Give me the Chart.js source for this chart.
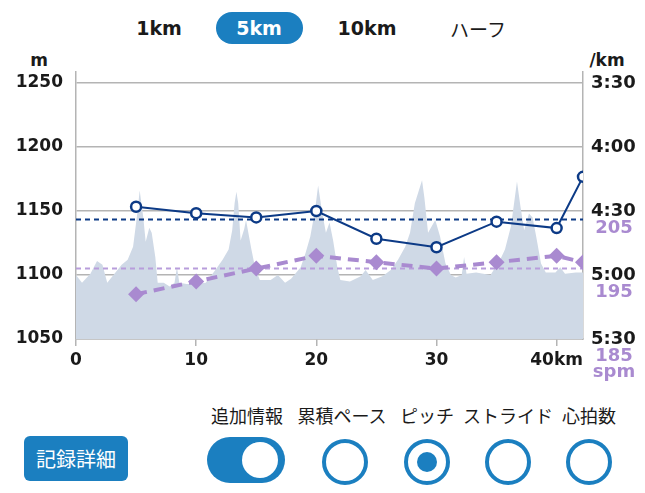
<!DOCTYPE html>
<html>
<head>
<meta charset="utf-8">
<script src="https://cdn.jsdelivr.net/npm/chart.js@4/dist/chart.umd.min.js"></script>
<style>
  body { margin: 0; width: 645px; height: 493px; background: #fff; position: relative; overflow: hidden;
         font-family: "Noto Sans CJK JP", "Noto Sans", sans-serif; color: #1a1a1a; }
  .c { position: absolute; transform: translate(-50%, -50%); white-space: nowrap; }
  .tab { font-family: "DejaVu Sans", sans-serif; font-weight: bold; font-size: 19px; }
  .pill { position: absolute; left: 216px; top: 12px; width: 87px; height: 32px; border-radius: 16px; background: #1b7fc0; }
  .unit { font-family: "DejaVu Sans", sans-serif; font-weight: bold; font-size: 17px; }
  .opt { font-size: 18px; }
  #wrap { position: absolute; left: 0; top: 45px; width: 645px; height: 345px; }
  .btn { position: absolute; left: 24px; top: 436px; width: 104px; height: 45px; border-radius: 6px; background: #1b7fc0;
         color: #fff; font-size: 20px; line-height: 45px; text-align: center; }
  .toggle { position: absolute; left: 207px; top: 437px; width: 78px; height: 46px; border-radius: 23px; background: #1b7fc0; }
  .knob { position: absolute; left: 35px; top: 5px; width: 36px; height: 36px; border-radius: 50%; background: #fff; }
  .ring { position: absolute; width: 38px; height: 38px; border: 4px solid #1b7fc0; border-radius: 50%; background: #fff;
          transform: translate(-50%, -50%); }
  .dot { position: absolute; left: 9px; top: 9px; width: 20px; height: 20px; border-radius: 50%; background: #1b7fc0; }
</style>
</head>
<body>
<div class="pill"></div>
<div class="c tab" style="left:159px;top:28px">1km</div>
<div class="c tab" style="left:259px;top:28px;color:#fff">5km</div>
<div class="c tab" style="left:367px;top:28px">10km</div>
<div class="c" style="left:478px;top:28px;font-size:19px">ハーフ</div>

<div class="c unit" style="left:39px;top:60px">m</div>
<div class="c unit" style="left:607px;top:60px">/km</div>

<div id="wrap"><canvas id="chart" width="645" height="345"></canvas></div>

<div class="c opt" style="left:247px;top:415px">追加情報</div>
<div class="c opt" style="left:342px;top:415px">累積ペース</div>
<div class="c opt" style="left:427px;top:415px">ピッチ</div>
<div class="c opt" style="left:508px;top:415px">ストライド</div>
<div class="c opt" style="left:589px;top:415px">心拍数</div>

<div class="btn">記録詳細</div>
<div class="toggle"><div class="knob"></div></div>
<div class="ring" style="left:345px;top:462px"></div>
<div class="ring" style="left:427px;top:462px"><div class="dot"></div></div>
<div class="ring" style="left:508px;top:462px"></div>
<div class="ring" style="left:589px;top:462px"></div>

<script>
// distance axis
const xTicks = [0, 10, 20, 30, 40];
const xLabels = ['0', '10', '20', '30', '40km'];

// elevation profile (km, m)
const elevKm = [0, 0.5, 1.2, 1.75, 2.2, 2.6, 3.2, 3.8, 4.3, 4.75,
  5.1, 5.3, 5.6, 5.8, 6.1, 6.3, 6.6, 6.8, 7.3, 7.8,
  8.2, 8.4, 8.6, 9.2, 10, 10.8, 11.6, 12.2, 12.7, 13.0,
  13.2, 13.35, 13.5, 13.7, 14.0, 14.15, 14.4, 14.6, 14.9, 15.3,
  16.2, 16.8, 17.4, 17.9, 18.7, 19.1, 19.5, 19.9, 20.15, 20.5,
  20.8, 21.1, 21.4, 21.75, 22.0, 22.8, 23.7, 24.1, 24.7, 25.5,
  26.2, 26.8, 27.4, 27.8, 28.2, 28.5, 28.8, 29.0, 29.3, 29.9,
  30.3, 30.75, 31.2, 31.6, 32.1, 32.3, 32.5, 33.3, 34.5, 34.9,
  35.3, 35.7, 36.2, 36.5, 36.7, 37.0, 37.3, 37.7, 38.0, 38.3,
  38.7, 39.1, 39.9, 40.3, 40.7, 41.6, 42.195];
const elevM = [1100, 1094, 1101, 1111, 1108, 1094, 1101, 1108, 1112, 1122,
  1148, 1166, 1145, 1126, 1137, 1133, 1114, 1094, 1094, 1091,
  1094, 1106, 1094, 1093, 1093, 1094, 1104, 1112, 1120, 1135,
  1156, 1165, 1156, 1127, 1136, 1143, 1130, 1120, 1106, 1096,
  1096, 1100, 1094, 1097, 1106, 1117, 1130, 1151, 1170, 1148,
  1133, 1141, 1127, 1106, 1096, 1095, 1099, 1104, 1096, 1099,
  1104, 1112, 1122, 1133, 1156, 1165, 1174, 1160, 1133, 1143,
  1130, 1109, 1100, 1098, 1100, 1114, 1101, 1102, 1100, 1106,
  1112, 1120, 1138, 1159, 1173, 1153, 1135, 1148, 1145, 1130,
  1109, 1102, 1102, 1106, 1101, 1102, 1102];
const elevTicks = [1050, 1100, 1150, 1200, 1250];

// 5km splits: pace in seconds per km, cadence in steps per minute
const splitKm = [5, 10, 15, 20, 25, 30, 35, 40, 42.195];
const paceSec = [268, 271, 273, 270, 283, 287, 275, 278, 254];
const cadence = [192, 194, 196, 198, 197, 196, 197, 198, 197];
const paceAvg = 274;
const cadenceAvg = 196;

const paceTicks = [210, 240, 270, 300, 330];
const paceLabels = ['3:30', '4:00', '4:30', '5:00', '5:30'];
const cadTicks = [205, 195, 185];
const cadLabels = [['205'], ['195'], ['185', 'spm']];

const navy = '#0c3a86';
const purple = '#a98ad0';
const gridGray = '#b4b4b4';
const tickFont = { family: 'DejaVu Sans', weight: 'bold', size: 17 };
const rightFont = { family: 'DejaVu Sans', weight: 'bold', size: 18 };

const pts = (xs, ys) => xs.map((x, i) => ({ x: x, y: ys[i] }));
const flat = (v) => [{ x: 0, y: v }, { x: 42.195, y: v }];

// purple cadence numbers sit under the pace labels on the right
const cadenceLabelPlugin = {
  id: 'cadenceLabels',
  afterDraw(chart) {
    const ctx = chart.ctx;
    const s = chart.scales.yCad;
    ctx.save();
    ctx.font = 'bold 18px "DejaVu Sans"';
    ctx.fillStyle = purple;
    ctx.textAlign = 'center';
    ctx.textBaseline = 'middle';
    cadTicks.forEach((v, i) => {
      const y = s.getPixelForValue(v) + 17;
      cadLabels[i].forEach((t, j) => ctx.fillText(t, chart.chartArea.right + 31, y + j * 16));
    });
    ctx.restore();
  }
};

new Chart(document.getElementById('chart'), {
  type: 'line',
  data: {
    datasets: [
      {
        data: pts(splitKm, paceSec), yAxisID: 'yPace',
        borderColor: navy, borderWidth: 2, tension: 0,
        pointRadius: 5, pointBorderWidth: 2.5, pointBackgroundColor: '#fff', pointBorderColor: navy
      },
      {
        data: pts(splitKm, cadence), yAxisID: 'yCad',
        borderColor: purple, borderWidth: 4, borderDash: [11, 7], tension: 0,
        pointStyle: 'rectRot', pointRadius: 8, pointBorderWidth: 0,
        pointBackgroundColor: purple, pointBorderColor: purple
      },
      {
        data: flat(paceAvg), yAxisID: 'yPace',
        borderColor: navy, borderWidth: 2, borderDash: [5, 4], pointRadius: 0
      },
      {
        data: flat(cadenceAvg), yAxisID: 'yCad',
        borderColor: '#b89ddb', borderWidth: 2, borderDash: [5, 4], pointRadius: 0
      },
      {
        data: pts(elevKm, elevM), yAxisID: 'yElev',
        borderWidth: 0, borderColor: 'rgba(0,0,0,0)', backgroundColor: '#cfd9e6',
        fill: 'start', pointRadius: 0, tension: 0
      }
    ]
  },
  options: {
    responsive: false,
    animation: false,
    layout: { padding: { top: 27, left: 0, right: 0, bottom: 0 } },
    plugins: { legend: { display: false }, tooltip: { enabled: false } },
    scales: {
      x: {
        type: 'linear', min: 0, max: 42.195,
        afterBuildTicks: (s) => { s.ticks = xTicks.map(v => ({ value: v })); },
        afterFit: (s) => { s.height = 51; },
        grid: { drawOnChartArea: false, drawTicks: true, tickLength: 7, color: gridGray, lineWidth: 1.5 },
        border: { color: gridGray, width: 1.5 },
        ticks: { color: '#1a1a1a', font: tickFont, padding: 4, maxRotation: 0,
                 callback: (v, i) => xLabels[i] }
      },
      yElev: {
        position: 'left', min: 1050, max: 1258.6,
        afterBuildTicks: (s) => { s.ticks = elevTicks.map(v => ({ value: v })); },
        afterFit: (s) => { s.width = 76; },
        grid: { color: gridGray, lineWidth: 1.5, drawTicks: false },
        border: { color: gridGray, width: 1.5 },
        ticks: { color: '#1a1a1a', font: tickFont, padding: 13,
                 callback: (v) => String(v) }
      },
      yPace: {
        position: 'right', reverse: true, min: 204.84, max: 330,
        afterBuildTicks: (s) => { s.ticks = paceTicks.map(v => ({ value: v })); },
        afterFit: (s) => { s.width = 62; },
        grid: { drawOnChartArea: false, drawTicks: false },
        border: { color: gridGray, width: 1.5 },
        ticks: { color: '#1a1a1a', font: rightFont, padding: 8,
                 callback: (v, i) => paceLabels[i] }
      },
      yCad: {
        display: false, min: 185, max: 226.72
      }
    }
  },
  plugins: [cadenceLabelPlugin]
});
</script>
</body>
</html>
